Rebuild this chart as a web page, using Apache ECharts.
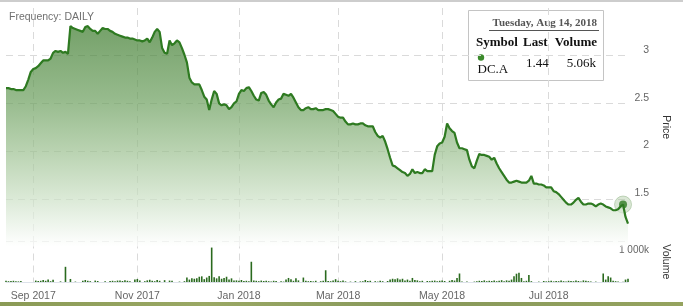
<!DOCTYPE html>
<html><head><meta charset="utf-8">
<script src="https://cdn.jsdelivr.net/npm/echarts@6/dist/echarts.min.js"></script>
<style>html,body{margin:0;padding:0;background:#fff}#c{width:683px;height:306px}</style>
</head><body><div id="c"></div>
<script>
// ---- data ----
const firstDay = '2017-08-17';
const lastDay = '2018-08-16';
const holidays = ['2017-09-04','2017-11-23','2017-12-25','2018-01-01','2018-01-15','2018-02-19','2018-03-30','2018-05-28','2018-07-04'];
const monthTicks = ['2017-09','2017-11','2018-01','2018-03','2018-05','2018-07'];
const monthLabels = ['Sep 2017','Nov 2017','Jan 2018','Mar 2018','May 2018','Jul 2018'];
const priceTicks = [1.5, 2, 2.5, 3];
const volumeTickLabel = '1 000k';

const prices = [
 2.66,2.66,2.65,2.65,2.64,2.64,2.64,2.64,2.68,2.75,
 2.83,2.86,2.87,2.89,2.92,2.95,2.95,2.95,2.97,3.03,
 3.05,3.04,3.05,3.03,3.04,3.02,3.31,3.29,3.28,3.27,
 3.26,3.25,3.30,3.31,3.28,3.26,3.26,3.23,3.26,3.29,
 3.28,3.28,3.26,3.25,3.23,3.22,3.21,3.20,3.19,3.19,
 3.18,3.18,3.17,3.16,3.16,3.15,3.16,3.18,3.14,3.19,
 3.25,3.28,3.25,3.08,3.03,3.02,3.16,3.11,3.13,3.16,
 3.14,3.08,3.01,2.93,2.77,2.72,2.70,2.70,2.70,2.64,
 2.57,2.54,2.43,2.54,2.63,2.60,2.50,2.48,2.49,2.48,
 2.44,2.46,2.50,2.52,2.60,2.64,2.63,2.66,2.67,2.63,
 2.58,2.54,2.53,2.61,2.62,2.59,2.53,2.49,2.46,2.51,
 2.54,2.55,2.60,2.59,2.58,2.60,2.56,2.51,2.46,2.43,
 2.43,2.45,2.46,2.44,2.44,2.45,2.43,2.43,2.43,2.44,
 2.44,2.43,2.42,2.39,2.36,2.35,2.35,2.31,2.28,2.28,
 2.29,2.28,2.28,2.29,2.29,2.27,2.26,2.26,2.26,2.20,
 2.16,2.14,2.16,2.10,2.02,1.93,1.85,1.84,1.82,1.80,
 1.78,1.77,1.74,1.76,1.81,1.77,1.78,1.77,1.77,1.81,
 1.79,1.79,1.79,1.96,2.05,2.08,2.09,2.15,2.29,2.24,
 2.21,2.19,2.09,2.03,2.03,2.02,2.01,1.91,1.84,1.82,
 1.90,1.97,1.96,1.96,1.95,1.94,1.91,1.93,1.87,1.82,
 1.78,1.74,1.70,1.67,1.67,1.68,1.69,1.68,1.67,1.67,
 1.67,1.69,1.74,1.66,1.66,1.65,1.65,1.64,1.62,1.62,
 1.62,1.58,1.57,1.55,1.52,1.49,1.46,1.44,1.44,1.46,
 1.49,1.51,1.47,1.44,1.44,1.45,1.45,1.44,1.42,1.44,
 1.45,1.44,1.42,1.41,1.40,1.38,1.38,1.39,1.42,1.44,
 1.31,1.24
];

// volume in thousands
const volumes = [
 30,20,25,30,20,15,25,0,0,0,
 0,0,35,25,30,50,30,60,20,55,
 0,0,15,0,375,0,75,0,10,0,
 0,30,50,30,20,0,35,25,0,0,
 20,0,25,30,20,35,40,25,45,30,
 20,0,60,75,40,0,20,40,55,30,
 20,50,30,0,45,0,35,30,0,0,
 10,0,20,110,60,90,80,90,130,140,
 70,110,150,850,120,90,140,80,100,130,
 60,90,40,40,30,50,25,30,20,500,
 40,30,20,35,25,30,20,15,30,25,
 0,20,10,60,100,70,30,90,40,0,
 110,30,20,25,15,30,0,20,30,290,
 25,20,35,70,30,20,40,15,0,10,
 0,20,0,15,20,50,25,30,0,20,
 10,30,20,0,25,60,80,70,90,60,
 80,40,60,30,100,50,40,20,30,0,
 25,20,30,35,20,30,40,25,0,30,
 50,35,100,210,15,0,10,0,0,10,
 20,30,25,40,20,30,25,35,20,30,
 45,20,40,30,60,145,205,230,100,20,
 30,170,20,0,0,10,0,25,15,20,
 30,15,25,20,35,20,15,30,25,20,
 35,25,15,40,30,20,10,0,10,0,
 0,210,60,145,110,30,20,15,0,5,
 60,80
];

const tipSymbol = 'DC.A';
const tipDate = 'Tuesday, Aug 14, 2018';
const tipLast = '1.44';
const tipVolume = '5.06k';
const hoverDate = '2018-08-14';

// ---- build trading-day categories ----
function tradingDays(a, b) {
  const out = [];
  let d = new Date(a + 'T00:00:00Z');
  const e = new Date(b + 'T00:00:00Z');
  while (d <= e) {
    const wd = d.getUTCDay();
    const s = d.toISOString().slice(0, 10);
    if (wd !== 0 && wd !== 6 && holidays.indexOf(s) < 0) out.push(s);
    d = new Date(d.getTime() + 86400000);
  }
  return out;
}
const dates = tradingDays(firstDay, lastDay);
const labelAt = {};
monthTicks.forEach((m, k) => {
  const idx = dates.findIndex(s => s.slice(0, 7) === m);
  if (idx >= 0) labelAt[idx] = monthLabels[k];
});
const isTick = (i) => labelAt[i] !== undefined;
const hoverIndex = dates.indexOf(hoverDate);

const gridDash = { color: '#dadada', width: 1, type: [7, 5] };
const F = '"Liberation Sans", Arial, sans-serif';
const S = '"Liberation Serif", "Times New Roman", serif';

const chart = echarts.init(document.getElementById('c'), null, { renderer: 'canvas' });
chart.setOption({
  animation: false,
  backgroundColor: '#ffffff',
  title: {
    text: 'Frequency: DAILY', left: 4, top: 7,
    textStyle: { fontSize: 10.5, color: '#707070', fontWeight: 'normal', fontFamily: F }
  },
  grid: [
    { left: 6, right: 55, top: 8, height: 238.5 },
    { left: 6, right: 55, top: 241.5, height: 40.5 }
  ],
  xAxis: [
    { type: 'category', gridIndex: 0, data: dates, boundaryGap: false,
      axisLine: { show: false }, axisTick: { show: false }, axisLabel: { show: false },
      splitLine: { show: true, interval: (i) => isTick(i), lineStyle: gridDash } },
    { type: 'category', gridIndex: 1, data: dates, boundaryGap: false,
      axisLine: { show: true, lineStyle: { color: '#dde2ea', width: 1 } },
      axisTick: { show: false },
      axisLabel: { show: true, interval: (i) => isTick(i), formatter: (v, i) => labelAt[i] || '',
        color: '#666', fontSize: 10.5, fontFamily: F, margin: 9 },
      splitLine: { show: true, interval: (i) => isTick(i), lineStyle: gridDash } }
  ],
  yAxis: [
    { type: 'value', gridIndex: 0, position: 'right', min: 1, max: 3.5, interval: 0.5,
      name: 'Price', nameLocation: 'middle', nameRotate: -90, nameGap: 31,
      nameTextStyle: { color: '#333', fontSize: 10.5, fontFamily: F },
      axisLine: { show: false }, axisTick: { show: false },
      axisLabel: { showMinLabel: false, showMaxLabel: false, align: 'right', margin: 21,
        verticalAlign: 'bottom', color: '#666', fontSize: 10.5, fontFamily: F,
        formatter: (v) => priceTicks.indexOf(v) >= 0 ? String(v) : '' },
      splitLine: { show: true, showMinLine: false, showMaxLine: false, lineStyle: gridDash } },
    { type: 'value', gridIndex: 1, position: 'right', min: 0, max: 1000, interval: 1000,
      name: 'Volume', nameLocation: 'middle', nameRotate: -90, nameGap: 31,
      nameTextStyle: { color: '#333', fontSize: 10.5, fontFamily: F },
      axisLine: { show: false }, axisTick: { show: false },
      axisLabel: { showMinLabel: false, align: 'right', margin: 21, verticalAlign: 'top',
        padding: [4, 0, 0, 0], color: '#666', fontSize: 10, fontFamily: F,
        formatter: () => volumeTickLabel },
      splitLine: { show: true, showMinLine: false, lineStyle: gridDash } }
  ],
  series: [
    { type: 'line', xAxisIndex: 0, yAxisIndex: 0, data: prices, showSymbol: false, symbol: 'none',
      silent: true, lineStyle: { color: '#2e7a21', width: 2.2 },
      areaStyle: { origin: 'start', color: new echarts.graphic.LinearGradient(0, 0, 0, 1, [
        { offset: 0, color: '#3a792a' },
        { offset: 0.33, color: '#699d5b' },
        { offset: 0.56, color: '#9abf8e' },
        { offset: 0.79, color: '#cde1c7' },
        { offset: 0.95, color: '#f3f8f2' },
        { offset: 1, color: '#ffffff' }
      ]) } },
    { type: 'scatter', xAxisIndex: 0, yAxisIndex: 0, silent: true, symbolSize: 17,
      data: [[hoverIndex, prices[hoverIndex]]],
      itemStyle: { color: 'rgba(170,200,160,0.55)', borderColor: 'rgba(140,175,130,0.6)', borderWidth: 1 } },
    { type: 'scatter', xAxisIndex: 0, yAxisIndex: 0, silent: true, symbolSize: 8,
      data: [[hoverIndex, prices[hoverIndex]]], itemStyle: { color: '#2e7a21' } },
    { type: 'bar', xAxisIndex: 1, yAxisIndex: 1, data: volumes, barWidth: 1.6, silent: true,
      itemStyle: { color: '#2a6a1e' } }
  ],
  graphic: [
    { type: 'rect', shape: { x: 0, y: 0, width: 683, height: 2 }, style: { fill: '#cdcdcd' }, silent: true },
    { type: 'rect', shape: { x: 0, y: 302, width: 683, height: 4 }, silent: true,
      style: { fill: new echarts.graphic.LinearGradient(0, 0, 1, 0, [
        { offset: 0, color: '#8a9a55' }, { offset: 0.3, color: '#9aa864' },
        { offset: 0.6, color: '#87985a' }, { offset: 1, color: '#95a35e' }]) } },
    { type: 'group', silent: true, z: 100, children: [
      { type: 'rect', shape: { x: 468.5, y: 10.5, width: 135, height: 70 },
        style: { fill: '#ffffff', stroke: '#c4c4c4', lineWidth: 1 } },
      { type: 'text', style: { text: tipDate, x: 597, y: 23, align: 'right', verticalAlign: 'middle',
        textAlign: 'right', textVerticalAlign: 'middle', font: 'bold 11px ' + S, fill: '#555' } },
      { type: 'line', shape: { x1: 489, y1: 30.5, x2: 599, y2: 30.5 }, style: { stroke: '#555', lineWidth: 1 } },
      { type: 'text', style: { text: 'Symbol', x: 476, y: 43, verticalAlign: 'middle', textVerticalAlign: 'middle',
        font: 'bold 13px ' + S, fill: '#111' } },
      { type: 'text', style: { text: 'Last', x: 523, y: 43, verticalAlign: 'middle', textVerticalAlign: 'middle',
        font: 'bold 13px ' + S, fill: '#111' } },
      { type: 'text', style: { text: 'Volume', x: 597, y: 43, align: 'right', textAlign: 'right',
        verticalAlign: 'middle', textVerticalAlign: 'middle', font: 'bold 13px ' + S, fill: '#111' } },
      { type: 'circle', shape: { cx: 481, cy: 57.5, r: 3.2 }, style: { fill: '#3b8a2c' } },
      { type: 'text', style: { text: tipSymbol, x: 477.5, y: 69.5, verticalAlign: 'middle', textVerticalAlign: 'middle',
        font: '13px ' + S, fill: '#111' } },
      { type: 'text', style: { text: tipLast, x: 526, y: 64, verticalAlign: 'middle', textVerticalAlign: 'middle',
        font: '13px ' + S, fill: '#111' } },
      { type: 'text', style: { text: tipVolume, x: 596, y: 64, align: 'right', textAlign: 'right',
        verticalAlign: 'middle', textVerticalAlign: 'middle', font: '13px ' + S, fill: '#111' } }
    ] }
  ]
});
</script></body></html>
